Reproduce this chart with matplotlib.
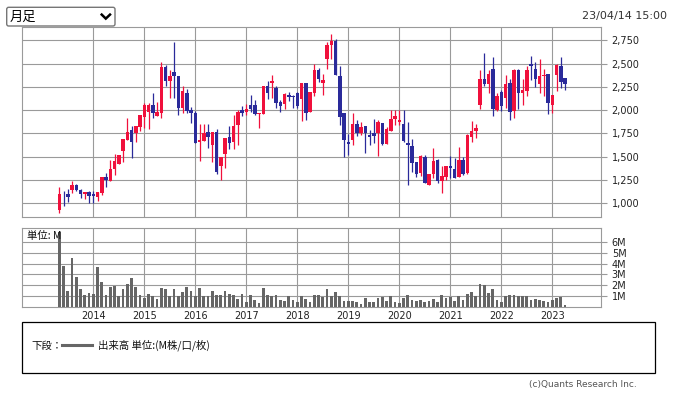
#Import libraries
import numpy as np
import matplotlib.pyplot as plt
from matplotlib.patches import FancyBboxPatch, Rectangle
from matplotlib.lines import Line2D

#Monthly candles, May 2013 -> Apr 2023
START_MONTH = 4  # months since Jan 2013
YEARS = ['2014', '2015', '2016', '2017', '2018', '2019', '2020', '2021', '2022', '2023']

opens = [
    930, 1100, 1095, 1145, 1200, 1145, 1095, 1120, 1105, 1070, 1115, 1280,
    1245, 1365, 1425, 1565, 1680, 1785, 1750, 1820, 1930, 1980, 2055, 1940,
    1965, 2465, 2315, 2415, 2365, 2025, 2180, 2000, 1965, 1660, 1670, 1770,
    1630, 1770, 1405, 1530, 1715, 1660, 1840, 2000, 1985, 2055, 2055, 1955,
    1955, 2255, 2290, 2240, 2090, 2065, 2165, 2155, 2180, 2115, 2290, 1980,
    2185, 2430, 2290, 2545, 2695, 2740, 2365, 1965, 1655, 1685, 1850, 1755,
    1830, 1730, 1750, 1750, 1865, 1635, 1775, 1905, 1875, 1850, 1645, 1615,
    1440, 1330, 1500, 1195, 1315, 1465, 1245, 1285, 1400, 1365, 1285, 1470,
    1330, 1715, 1780, 2060, 2330, 2280, 2445, 2005, 2195, 2135, 2295, 1995,
    2435, 2180, 2205, 2500, 2445, 2280, 2365, 2385, 2055, 2375, 2470, 2345,
]
highs = [
    1175, 1130, 1155, 1240, 1205, 1155, 1120, 1130, 1130, 1120, 1280, 1330,
    1465, 1530, 1520, 1690, 1915, 1830, 1830, 1945, 2080, 2080, 2185, 2090,
    2515, 2480, 2435, 2730, 2365, 2265, 2230, 2035, 1990, 1850, 1850, 1855,
    1770, 1795, 1500, 1705, 1830, 1945, 2000, 2040, 2070, 2160, 2105, 1965,
    2265, 2310, 2375, 2255, 2105, 2180, 2190, 2165, 2195, 2290, 2290, 2190,
    2500, 2455, 2385, 2730, 2820, 2765, 2470, 1965, 1745, 1965, 1890, 1870,
    1830, 1785, 1910, 1890, 1865, 1820, 2000, 2000, 2000, 2000, 1870, 1690,
    1440, 1520, 1520, 1320, 1595, 1480, 1400, 1400, 1510, 1490, 1600, 1495,
    1745, 1880, 1855, 2435, 2615, 2435, 2570, 2180, 2220, 2375, 2330, 2445,
    2445, 2340, 2470, 2580, 2515, 2550, 2440, 2385, 2160, 2500, 2570, 2345,
]
lows = [
    900, 970, 1015, 1115, 1130, 1060, 1045, 1005, 1000, 1020, 1090, 1170,
    1245, 1305, 1420, 1445, 1680, 1490, 1655, 1775, 1810, 1795, 1920, 1940,
    1920, 2255, 2135, 2130, 1945, 1965, 1965, 1865, 1645, 1455, 1670, 1590,
    1445, 1310, 1250, 1375, 1580, 1580, 1630, 1935, 1945, 1980, 1945, 1810,
    1955, 2115, 2130, 2025, 1980, 2010, 2095, 2025, 2025, 1885, 1900, 1980,
    2150, 2305, 2160, 2445, 2545, 2375, 1840, 1500, 1520, 1625, 1720, 1730,
    1545, 1625, 1645, 1505, 1625, 1635, 1775, 1845, 1840, 1660, 1195, 1340,
    1285, 1295, 1220, 1195, 1270, 1220, 1115, 1255, 1270, 1275, 1285, 1305,
    1315, 1660, 1705, 2015, 2255, 2180, 1935, 1990, 1995, 2025, 1895, 1920,
    2010, 2055, 2150, 2320, 2250, 2180, 2150, 1955, 1970, 2205, 2240, 2215,
]
closes = [
    1100, 1095, 1070, 1195, 1145, 1095, 1120, 1080, 1080, 1120, 1280, 1250,
    1365, 1455, 1520, 1690, 1770, 1660, 1830, 1945, 2055, 2055, 1970, 1980,
    2465, 2315, 2365, 2365, 2025, 2205, 1995, 1970, 1645, 1685, 1750, 1715,
    1770, 1340, 1500, 1705, 1645, 1830, 1980, 1970, 2010, 2015, 1955, 1965,
    2255, 2185, 2310, 2080, 2050, 2170, 2140, 2140, 2045, 2290, 1970, 2190,
    2435, 2340, 2320, 2705, 2740, 2375, 1930, 1685, 1640, 1855, 1750, 1815,
    1750, 1715, 1720, 1870, 1635, 1795, 1905, 1935, 1890, 1670, 1625, 1435,
    1315, 1505, 1220, 1320, 1455, 1245, 1295, 1400, 1380, 1275, 1470, 1315,
    1730, 1775, 1805, 2330, 2280, 2390, 2015, 2150, 2045, 2285, 1980, 2435,
    2185, 2215, 2430, 2470, 2340, 2365, 2370, 2080, 2160, 2480, 2305, 2280,
]
#Volume in millions of shares
volumes = [
    6.95, 3.75, 1.5, 4.5, 2.8, 1.6, 1.1, 1.3, 1.2, 3.65, 2.3, 1.1,
    1.85, 1.95, 1.0, 1.65, 2.15, 2.7, 1.85, 1.1, 0.85, 1.2, 1.0, 0.75,
    1.75, 1.65, 1.0, 1.6, 0.95, 1.4, 1.85, 1.5, 1.0, 1.75, 1.0, 0.95,
    1.5, 1.1, 1.1, 1.5, 1.2, 1.1, 0.75, 1.2, 0.45, 1.1, 0.65, 0.35,
    1.75, 1.1, 1.0, 1.1, 0.65, 0.55, 0.95, 0.65, 0.45, 1.0, 0.75, 0.45,
    1.1, 1.1, 0.9, 1.65, 1.0, 1.4, 1.0, 0.55, 0.5, 0.5, 0.4, 0.25,
    0.8, 0.45, 0.45, 0.85, 0.9, 0.55, 0.95, 0.45, 0.3, 0.85, 1.1, 0.6,
    0.55, 0.6, 0.45, 0.5, 0.75, 0.45, 1.1, 0.85, 0.9, 0.55, 1.0, 0.65,
    1.2, 1.35, 0.95, 2.15, 2.0, 1.3, 1.6, 0.6, 0.45, 1.0, 1.1, 1.1,
    0.95, 0.95, 0.95, 0.6, 0.75, 0.6, 0.55, 0.45, 0.6, 0.85, 0.9, 0.2,
]
price_ticks = [1000, 1250, 1500, 1750, 2000, 2250, 2500, 2750]
vol_ticks = [1, 2, 3, 4, 5, 6]

RED = '#f0103c'
BLUE = '#2a2a9a'
GRID = '#9a9a9a'
JP = ['Noto Sans CJK JP', 'DejaVu Sans']
plt.rcParams['font.family'] = ['DejaVu Sans']

W, H = 674, 396
fig = plt.figure(figsize=(W / 100, H / 100), dpi=100)

def frac(x0, y0, x1, y1):
    # pixel box (top-left origin) -> figure fraction
    return [x0 / W, 1 - y1 / H, (x1 - x0) / W, (y1 - y0) / H]

#Overlay for the page furniture (dropdown, legend box, footer)
ax_o = fig.add_axes([0, 0, 1, 1])
ax_o.set_xlim(0, W)
ax_o.set_ylim(H, 0)
ax_o.axis('off')

ax_p = fig.add_axes(frac(22.3, 27.3, 601.3, 217.3))
ax_v = fig.add_axes(frac(22.3, 228.3, 601.3, 306.7))

x = np.arange(len(opens)) + START_MONTH
o = np.array(opens, dtype=float)
c = np.array(closes, dtype=float)
hi = np.array(highs, dtype=float)
lo = np.array(lows, dtype=float)
colors = np.where(c >= o, RED, BLUE)

#Candles
ax_p.vlines(x, lo, hi, colors=colors, lw=0.9, zorder=3)
body = np.maximum(np.abs(c - o), 8)
ax_p.bar(x, body, bottom=np.minimum(o, c), width=0.82, color=colors, zorder=4)

#Volume
ax_v.bar(x, volumes, width=0.68, color='#666666', zorder=3)

year_pos = [12 * (int(y) - 2013) for y in YEARS]
for ax in (ax_p, ax_v):
    ax.set_xlim(START_MONTH - 37 / 4.25, START_MONTH + 542 / 4.25)
    ax.set_xticks(year_pos)
    ax.grid(True, color=GRID, lw=0.8, zorder=0)
    ax.set_axisbelow(True)
    for sp in ax.spines.values():
        sp.set_color(GRID)
        sp.set_linewidth(0.8)
    ax.yaxis.tick_right()
    ax.tick_params(axis='y', length=4.5, width=0.8, color=GRID,
                   labelsize=7, pad=3, labelcolor='#222222')
    ax.tick_params(axis='x', length=0, labelsize=7, labelcolor='#222222')

ax_p.set_ylim(850, 2890)
ax_p.set_yticks(price_ticks, labels=[f'{p:,}' for p in price_ticks])
ax_p.set_xticklabels([])

ax_v.set_ylim(0, 7.29)
ax_v.set_yticks(vol_ticks, labels=[f'{v}M' for v in vol_ticks])
ax_v.set_xticklabels(YEARS)
ax_v.tick_params(axis='x', pad=3)
ax_v.text(0.008, 0.9, '単位: M', transform=ax_v.transAxes, fontsize=7.5,
          family=JP, va='center', ha='left', color='#111111', zorder=5)

#Dropdown box
ax_o.add_patch(FancyBboxPatch((6.7, 7.3), 108.3, 18.7,
                              boxstyle='round,pad=0,rounding_size=2',
                              fc='white', ec='#767676', lw=1))
ax_o.text(10, 17, '月足', fontsize=9.5, family=JP, va='center', ha='left', color='black')
ax_o.add_line(Line2D([101.7, 105.8, 110], [14.6, 18.6, 14.6], color='black', lw=1.8,
                     solid_joinstyle='miter'))

#Timestamp
ax_o.text(667, 16, '23/04/14 15:00', fontsize=8, ha='right', va='center', color='#333333')

#Legend box
ax_o.add_patch(Rectangle((22.3, 322.3), 632.3, 50.4, fc='none', ec='black', lw=0.9))
ax_o.text(31.7, 345.5, '下段：', fontsize=7.5, family=JP, va='center', ha='left', color='#111111')
ax_o.add_line(Line2D([62.3, 92.3], [345, 345], color='#666666', lw=2.2))
ax_o.text(97.7, 345.5, '出来高 単位:(M株/口/枚)', fontsize=7.5, family=JP,
          va='center', ha='left', color='#111111')

#Footer
ax_o.text(637, 385, '(c)Quants Research Inc.', fontsize=6.5, ha='right', va='center',
          color='#555555')

fig.savefig('out.png', dpi=100)
plt.close()
